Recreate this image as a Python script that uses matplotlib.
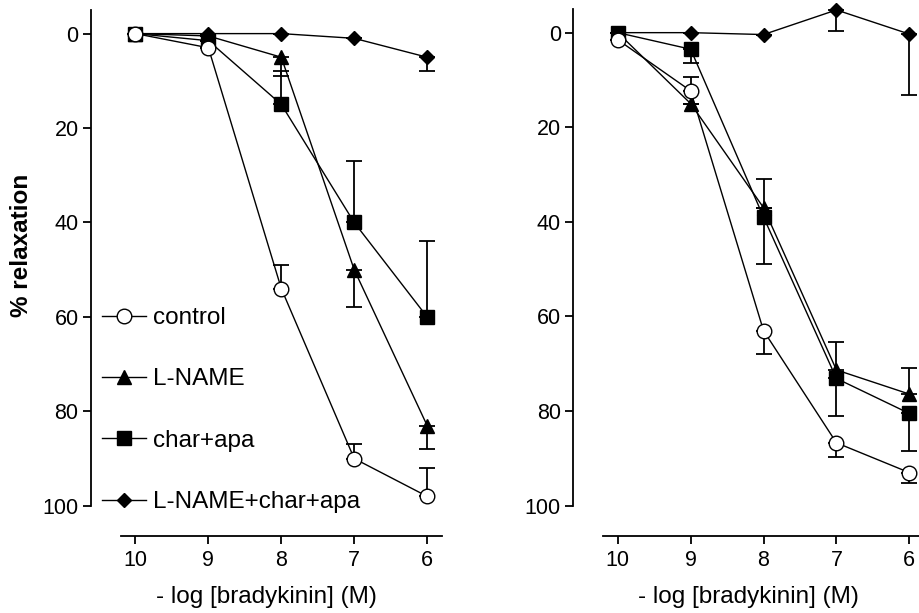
import matplotlib
matplotlib.use("Agg")
import matplotlib.pyplot as plt
import numpy as np

plt.rcParams['font.family'] = ['Liberation Sans', 'DejaVu Sans']

x_vals = [10, 9, 8, 7, 6]
x_ticklabels = ["10", "9", "8", "7", "6"]
y_ticks = [0, 20, 40, 60, 80, 100]

series_names = ["control", "L-NAME", "char+apa", "L-NAME+char+apa"]
markers = ["o", "^", "s", "D"]
facecolors = ["white", "black", "black", "black"]
msizes = [10.5, 10.5, 10.0, 7.0]

# Left panel values (% relaxation) and one-sided errors
left_control = [0, 3, 54, 90, 98]
left_control_em = [0, 0, 5, 3, 6]
left_control_ep = [0, 0, 0, 0, 0]
left_lname = [0, 0.5, 5, 50, 83]
left_lname_em = [0, 0, 0, 0, 0]
left_lname_ep = [0, 0, 4, 8, 5]
left_charapa = [0, 1.5, 15, 40, 60]
left_charapa_em = [0, 0, 7, 13, 16]
left_charapa_ep = [0, 0, 0, 0, 0]
left_all = [0, 0, 0, 1, 5]
left_all_em = [0, 0, 0, 0, 0]
left_all_ep = [0, 0, 0, 0, 3]

# Right panel values
right_control = [1.5, 12.3, 63, 86.7, 93]
right_control_em = [0, 3, 0, 0, 0]
right_control_ep = [0, 0, 5, 3, 2.2]
right_lname = [0, 15, 37, 71.3, 76.4]
right_lname_em = [0, 0, 0, 6, 5.6]
right_lname_ep = [0, 0, 0, 0, 0]
right_charapa = [0, 3.5, 39, 73.1, 80.5]
right_charapa_em = [0, 0, 8, 0, 0]
right_charapa_ep = [0, 3, 10, 8, 8]
right_all = [0, 0, 0.4, -4.8, 0.3]
right_all_em = [0, 0, 0, 0, 0]
right_all_ep = [0, 0, 0, 4.4, 12.8]

W, H = 919, 613
fig = plt.figure(figsize=(W / 100, H / 100), dpi=100)

def px_axes(left, right, top, bottom):
    return fig.add_axes([left / W, 1 - bottom / H, (right - left) / W, (bottom - top) / H])

ax1 = px_axes(91, 441.7, 10, 536)
ax2 = px_axes(573.3, 923.9, 9, 536)

panels = [
    (ax1, [(left_control, left_control_em, left_control_ep),
           (left_lname, left_lname_em, left_lname_ep),
           (left_charapa, left_charapa_em, left_charapa_ep),
           (left_all, left_all_em, left_all_ep)]),
    (ax2, [(right_control, right_control_em, right_control_ep),
           (right_lname, right_lname_em, right_lname_ep),
           (right_charapa, right_charapa_em, right_charapa_ep),
           (right_all, right_all_em, right_all_ep)]),
]

zorders = [6, 3, 4, 5]
for ax, data in panels:
    for i, (vals, em, ep) in enumerate(data):
        ax.errorbar(x_vals, vals, yerr=[em, ep], fmt='none', ecolor='black',
                    elinewidth=1.3, capsize=6, capthick=1.3, zorder=2)
        ax.plot(x_vals, vals, color='black', lw=1.0, marker=markers[i],
                markersize=msizes[i], markerfacecolor=facecolors[i],
                markeredgecolor='black', markeredgewidth=1.0,
                label=series_names[i], zorder=zorders[i], clip_on=False)
    ax.set_xlim(10.61, 5.80)
    ax.set_ylim(106.4, -5)
    ax.spines['top'].set_visible(False)
    ax.spines['right'].set_visible(False)
    ax.spines['left'].set_bounds(-5, 100)
    ax.spines['bottom'].set_bounds(10.2, 5.8)
    for s in ['left', 'bottom']:
        ax.spines[s].set_linewidth(1.3)
    ax.set_xticks(x_vals)
    ax.set_xticklabels(x_ticklabels)
    ax.set_yticks(y_ticks)
    ax.tick_params(axis='both', labelsize=15.5, width=1.3, length=6, direction='out')
    ax.tick_params(axis='y', pad=3)
    ax.tick_params(axis='x', pad=4)
    ax.set_xlabel("- log [bradykinin] (M)", fontsize=17.5, labelpad=11)
    ax.patch.set_visible(False)

fig.text(22 / W, 1 - 245 / H, "% relaxation", fontsize=17.5, fontweight='bold',
         rotation=90, ha='center', va='center')

ax1.legend(loc='upper left', bbox_to_anchor=(102 / W, 1 - 307 / H),
           bbox_transform=fig.transFigure, frameon=False, fontsize=17.5,
           handlelength=1.8, handletextpad=0.28, labelspacing=1.62,
           borderpad=0, borderaxespad=0, numpoints=1)

fig.savefig("out.png", dpi=100)
